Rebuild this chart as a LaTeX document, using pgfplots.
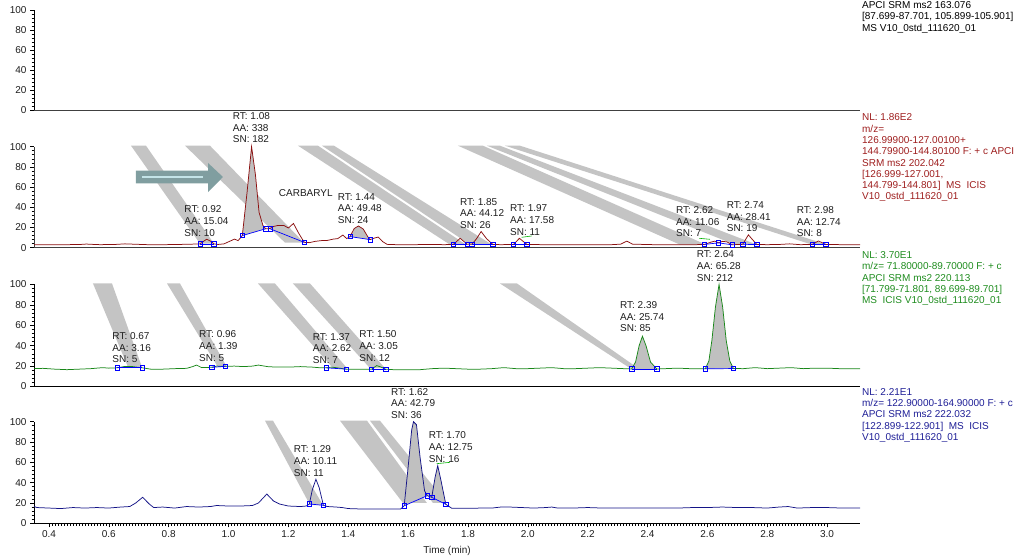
\documentclass[border=0pt]{standalone}
\usepackage{fontspec}
\setmainfont{Liberation Sans}
\usepackage{pgfplots}
\pgfplotsset{compat=1.18}

\definecolor{trRed}{RGB}{139,16,16}
\definecolor{txRed}{RGB}{158,30,30}
\definecolor{trGreen}{RGB}{25,135,25}
\definecolor{txGreen}{RGB}{30,140,30}
\definecolor{trBlue}{RGB}{20,20,135}
\definecolor{txBlue}{RGB}{30,30,150}
\definecolor{peakGray}{RGB}{192,192,192}
\definecolor{bandGray}{RGB}{196,196,196}
\definecolor{arrowFill}{RGB}{128,158,160}
\definecolor{arrowLine}{RGB}{196,228,232}
\definecolor{lblText}{RGB}{30,30,30}

\pgfplotsset{
  chrom/.style={
    scale only axis, width=826bp,
    xmin=0.35, xmax=3.11, ymin=0, ymax=100,
    axis lines*=left, clip=false,
    ytick={0,20,40,60,80,100}, minor y tick num=4,
    xtick=\empty,
    tick align=outside, major tick length=4bp, minor tick length=2.5bp,
    tick style={black, line width=0.6pt},
    axis line style={black, line width=0.8pt},
    font=\fontsize{10bp}{11.4bp}\selectfont,
    /pgf/number format/assume math mode=true,
    tick label style={text=lblText},
  },
  band/.style={fill=bandGray, draw=none, forget plot},
  peak/.style={fill=peakGray, draw=none, forget plot},
  base/.style={blue, line width=0.7pt, mark=square, mark size=2.2bp,
    mark options={blue, line width=0.6pt, fill=none}, forget plot},
  snline/.style={green!70!black, line width=0.6pt, forget plot},
}
\tikzset{
  lbl/.style={anchor=north west, inner sep=0pt, align=left, text=lblText,
    font=\fontsize{10bp}{11.6bp}\selectfont},
  info/.style={anchor=north west, inner sep=0pt, align=left,
    font=\fontsize{10bp}{11.3bp}\selectfont},
}
% peak annotation: position, RT, area, signal-to-noise
\newcommand\pk[5]{\node[lbl] at (axis cs:#1,#2) {RT: #3\\AA: #4\\SN: #5};}

\begin{document}
\begin{tikzpicture}
\useasboundingbox (0,0) rectangle (1015bp,558bp);

% ---------- trace 1 : 163.076 ----------
\begin{axis}[chrom, height=100bp, at={(34bp,448bp)}, anchor=south west]
\addplot[black!75, line width=0.9pt] coordinates {(0.35,0) (3.11,0)};
\node[info, text=black] at (axis cs:3.1165,108.6)
  {APCI SRM ms2 163.076\\{[}87.699-87.701, 105.899-105.901{]}\\MS V10\_0std\_111620\_01};
\end{axis}

% ---------- trace 2 : 202.042 (carbaryl) ----------
\begin{axis}[chrom, height=101bp, at={(34bp,310.3bp)}, anchor=south west,
  axis line style={black!75, line width=1pt}]
% leader bands
\addplot[band] coordinates {(0.6741,101) (0.7242,101) (0.9514,4) (0.9046,4)} -- cycle;
\addplot[band] coordinates {(0.8545,101) (0.9380,101) (1.2521,5) (1.1886,5)} -- cycle;
\addplot[band] coordinates {(1.2321,101) (1.2989,101) (1.7934,3) (1.7399,3)} -- cycle;
\addplot[band] coordinates {(1.3123,101) (1.3524,101) (1.8802,3) (1.8067,3)} -- cycle;
\addplot[band] coordinates {(1.7666,101) (1.8501,101) (2.5953,3) (2.5084,3)} -- cycle;
\addplot[band] coordinates {(1.8634,101) (1.9069,101) (2.7656,3) (2.6921,3)} -- cycle;
\addplot[band] coordinates {(1.9237,101) (1.9738,101) (2.9995,3) (2.9494,3)} -- cycle;
% arrow marker
\addplot[fill=arrowFill, draw=none, forget plot] coordinates {(0.6908,76.2) (0.9314,76.2) (0.9314,83.9) (0.9815,70.0) (0.9314,55.1) (0.9314,63.8) (0.6908,63.8)} -- cycle;
\addplot[arrowLine, line width=2.2pt, forget plot] coordinates {(0.7108,70) (0.9146,70)};
% integrated peaks
\addplot[peak] coordinates {(1.046,12) (1.062,55) (1.077,100) (1.09,72) (1.102,35) (1.115,22) (1.124,18.7)} -- cycle;
\addplot[peak] coordinates {(1.406,11) (1.42,19) (1.434,21.5) (1.45,18.5) (1.465,11) (1.473,8)} -- cycle;
% chromatogram
\addplot[trRed, line width=0.75pt] coordinates {
(0.35,3)(0.40,3)(0.45,3)(0.50,3.1)(0.525,3.6)(0.545,3.3)(0.57,3)(0.62,3.2)(0.654,3.8)(0.69,3.4)
(0.73,3)(0.78,3)(0.82,3.1)(0.86,3.4)(0.89,3.6)(0.905,3.8)(0.915,6)(0.927,8.4)(0.94,6.5)(0.951,3.8)
(0.965,3.2)(0.985,3.8)(1.005,6.5)(1.02,8.5)(1.032,7)(1.046,12)(1.062,55)(1.077,100)(1.09,72)(1.102,35)
(1.115,22)(1.124,18.7)(1.139,19)(1.15,21)(1.165,22)(1.185,22)(1.20,19.5)(1.217,24)(1.235,14)(1.253,5.3)
(1.27,5)(1.29,6.3)(1.31,7)(1.33,7.2)(1.35,8.5)(1.365,9)(1.382,12.5)(1.395,9)(1.406,11)(1.42,19)
(1.434,21.5)(1.45,18.5)(1.465,11)(1.473,8)(1.487,9.5)(1.50,10.5)(1.515,6)(1.53,3.3)(1.56,3)(1.62,3)
(1.68,3.2)(1.72,3)(1.751,3.2)(1.774,9.3)(1.798,3.3)(1.813,3.3)(1.829,9)(1.844,16)(1.862,9)(1.883,3.2)
(1.91,3)(1.952,3.2)(1.972,9.3)(1.997,3.2)(2.05,3)(2.12,3)(2.20,3)(2.28,3)(2.31,3.5)(2.331,6.5)
(2.35,3.5)(2.42,3)(2.50,3)(2.56,3)(2.59,3.2)(2.612,5.5)(2.625,6.5)(2.637,4.8)(2.65,6.3)(2.665,5.8)
(2.684,2.8)(2.70,3.2)(2.718,3.3)(2.737,12.7)(2.765,3.2)(2.80,3)(2.84,3.2)(2.875,3.8)(2.91,3)(2.951,3.2)
(2.971,6.7)(2.996,3.2)(3.05,3)(3.11,3)};
% baselines
\addplot[base] coordinates {(0.905,3.8)(0.951,3.8)};
\addplot[base] coordinates {(1.046,12)(1.124,18.7)};
\addplot[base] coordinates {(1.139,18.7)(1.253,5.3)};
\addplot[base] coordinates {(1.406,11)(1.473,8)};
\addplot[base] coordinates {(1.751,3.2)(1.798,3.2)};
\addplot[base] coordinates {(1.813,3.2)(1.883,3.2)};
\addplot[base] coordinates {(1.952,3.2)(1.997,3.2)};
\addplot[base] coordinates {(2.59,3.2)(2.637,4.8)(2.684,2.8)};
\addplot[base] coordinates {(2.718,3.3)(2.765,3.2)};
\addplot[base] coordinates {(2.951,3.2)(2.996,3.2)};
\addplot[snline] coordinates {(1.9795,10.3)(2.0129,11.6)};
\addplot[snline] coordinates {(2.5729,9.3)(2.6087,8.3)};
% annotations
\pk{1.0139}{134.0}{1.08}{338}{182}
\pk{0.8522}{41.6}{0.92}{15.04}{10}
\pk{1.3647}{54.1}{1.44}{49.48}{24}
\pk{1.7733}{49.1}{1.85}{44.12}{26}
\pk{1.9404}{42.6}{1.97}{17.58}{11}
\pk{2.4950}{40.9}{2.62}{11.06}{7}
\pk{2.6644}{45.8}{2.74}{28.41}{19}
\pk{2.8983}{40.9}{2.98}{12.74}{8}
\node[lbl] at (axis cs:1.1676,58.0) {CARBARYL};
\node[info, text=txRed] at (axis cs:3.1165,132.7)
  {NL: 1.86E2\\m/z=\\126.99900-127.00100+\\144.79900-144.80100 F: + c APCI\\SRM ms2 202.042\\{[}126.999-127.001,\\144.799-144.801{]}\ \ MS\ \ ICIS\\V10\_0std\_111620\_01};
\end{axis}

% ---------- trace 3 : 220.113 ----------
\begin{axis}[chrom, height=102bp, at={(34bp,171.5bp)}, anchor=south west]
\addplot[band] coordinates {(0.5471,101) (0.6106,101) (0.7108,19) (0.6641,19)} -- cycle;
\addplot[band] coordinates {(0.7944,101) (0.8378,101) (0.9948,19) (0.9648,19)} -- cycle;
\addplot[band] coordinates {(1.0984,101) (1.1552,101) (1.3958,18) (1.3490,18)} -- cycle;
\addplot[band] coordinates {(1.2153,101) (1.2722,101) (1.5227,18) (1.4726,18)} -- cycle;
\addplot[band] coordinates {(1.9070,101) (1.9638,101) (2.3681,18) (2.3413,18)} -- cycle;
\addplot[peak] coordinates {(2.347,17.2)(2.36,24)(2.372,40)(2.383,49.3)(2.395,40)(2.41,24)(2.431,17.2)} -- cycle;
\addplot[peak] coordinates {(2.593,17.3)(2.605,25)(2.615,45)(2.627,78)(2.639,100)(2.651,78)(2.663,45)(2.675,25)(2.687,17.6)} -- cycle;
\addplot[trGreen, line width=0.75pt] coordinates {
(0.35,17.5)(0.38,17.8)(0.42,17)(0.46,16.5)(0.50,17)(0.54,17.5)(0.58,18.5)(0.60,18)(0.628,18.3)(0.65,19.5)
(0.68,19.5)(0.712,18.3)(0.74,17)(0.78,17)(0.82,17.5)(0.86,17.8)(0.88,19.5)(0.893,21)(0.91,18.5)(0.944,18.8)
(0.96,20)(0.99,19.8)(1.02,20)(1.05,19.5)(1.08,20)(1.10,21)(1.13,19.5)(1.16,19)(1.20,19)(1.24,19.5)
(1.28,19)(1.30,18.5)(1.326,18.3)(1.345,19)(1.37,18)(1.394,17)(1.42,16.8)(1.45,17)(1.478,17)(1.495,20.5)
(1.51,19)(1.525,17)(1.55,16.5)(1.60,16.5)(1.64,16.5)(1.68,17.5)(1.72,18)(1.76,17.5)(1.80,17)(1.84,17)
(1.88,17.5)(1.92,18.5)(1.96,17.5)(2.00,17.5)(2.04,18)(2.08,18.5)(2.12,17.5)(2.16,17.5)(2.20,18)(2.24,18.5)
(2.28,18)(2.32,17.5)(2.347,17.2)(2.36,24)(2.372,40)(2.383,49.3)(2.395,40)(2.41,24)(2.431,17.2)(2.46,17.5)
(2.50,18)(2.54,17.5)(2.57,17.5)(2.593,17.3)(2.605,25)(2.615,45)(2.627,78)(2.639,100)(2.651,78)(2.663,45)
(2.675,25)(2.687,17.6)(2.72,17.5)(2.76,18.5)(2.80,17.5)(2.84,18)(2.88,18.5)(2.92,17.5)(2.96,18)(3.00,18)
(3.04,17.5)(3.08,17.5)(3.11,17.5)};
\addplot[base] coordinates {(0.628,18.3)(0.712,18.3)};
\addplot[base] coordinates {(0.944,18.8)(0.99,19.8)};
\addplot[base] coordinates {(1.326,18.3)(1.394,17)};
\addplot[base] coordinates {(1.478,17)(1.525,17)};
\addplot[base] coordinates {(2.347,17.2)(2.431,17.2)};
\addplot[base] coordinates {(2.593,17.3)(2.687,17.6)};
\pk{2.5642}{133.1}{2.64}{65.28}{212}
\pk{0.6116}{53.0}{0.67}{3.16}{5}
\pk{0.9013}{54.7}{0.96}{1.39}{5}
\pk{1.2812}{52.4}{1.37}{2.62}{7}
\pk{1.4369}{54.7}{1.50}{3.05}{12}
\pk{2.3079}{83.4}{2.39}{25.74}{85}
\node[info, text=txGreen] at (axis cs:3.1165,132.5)
  {NL: 3.70E1\\m/z= 71.80000-89.70000 F: + c\\APCI SRM ms2 220.113\\{[}71.799-71.801, 89.699-89.701{]}\\MS\ \ ICIS V10\_0std\_111620\_01};
\end{axis}

% ---------- trace 4 : 222.032 ----------
\begin{axis}[chrom, height=101.6bp, at={(34bp,34.7bp)}, anchor=south west,
  xtick={0.4,0.6,0.8,1.0,1.2,1.4,1.6,1.8,2.0,2.2,2.4,2.6,2.8,3.0},
  minor x tick num=19,
  xticklabel style={/pgf/number format/.cd, fixed, fixed zerofill, precision=1},
  xlabel={Time (min)}, xlabel style={text=lblText, yshift=-2bp}]
\addplot[band] coordinates {(1.1218,101) (1.1485,101) (1.3156,18) (1.2722,18)} -- cycle;
\addplot[band] coordinates {(1.3724,101) (1.4626,101) (1.6630,20) (1.5829,20)} -- cycle;
\addplot[band] coordinates {(1.4726,101) (1.5060,101) (1.7299,20) (1.6831,20)} -- cycle;
\addplot[peak] coordinates {(1.587,17.3)(1.60,55)(1.612,92)(1.618,100)(1.628,97)(1.64,65)(1.655,32)(1.664,27.2)} -- cycle;
\addplot[peak] coordinates {(1.679,25.6)(1.69,45)(1.699,56.7)(1.71,42)(1.726,18.7)} -- cycle;
\addplot[trBlue, line width=0.75pt] coordinates {
(0.35,16.5)(0.36,15.5)(0.40,15)(0.44,14.5)(0.48,15.5)(0.52,15)(0.56,15.5)(0.60,15)(0.64,16)(0.67,16.5)
(0.69,20)(0.713,25.6)(0.735,19)(0.75,15.5)(0.78,16)(0.82,15)(0.86,16.5)(0.90,16)(0.94,16.5)(0.96,17.5)
(1.00,17)(1.04,17)(1.08,17.5)(1.10,20)(1.128,28.8)(1.15,22)(1.17,19)(1.20,17)(1.24,16.5)(1.26,17)
(1.27,19)(1.28,33)(1.292,43.3)(1.303,35)(1.317,17.7)(1.33,16.5)(1.36,16)(1.38,15.5)(1.40,14.5)(1.45,14)
(1.50,14)(1.55,14)(1.575,14)(1.587,17.3)(1.60,55)(1.612,92)(1.618,100)(1.628,97)(1.64,65)(1.655,32)
(1.664,27.2)(1.679,25.6)(1.69,45)(1.699,56.7)(1.71,42)(1.726,18.7)(1.746,14.8)(1.80,14.8)(1.85,15)(1.88,15)
(1.91,16)(1.94,16)(1.98,15.5)(2.02,15)(2.06,15.5)(2.08,16)(2.10,15)(2.15,15)(2.20,15.5)(2.25,15)
(2.30,15)(2.35,15)(2.40,15)(2.45,15)(2.50,15)(2.55,15.5)(2.60,15.5)(2.65,16)(2.70,15.5)(2.75,15.5)
(2.80,15)(2.84,16)(2.87,16.5)(2.90,15)(2.95,15.5)(3.00,15.5)(3.05,15)(3.11,15)};
\addplot[base] coordinates {(1.27,19)(1.317,17.7)};
\addplot[base] coordinates {(1.587,17.3)(1.664,27.2)};
\addplot[base] coordinates {(1.679,25.6)(1.726,18.7)};
\addplot[snline] coordinates {(1.6955,58.7)(1.7399,60)};
\pk{1.2177}{76.4}{1.29}{10.11}{11}
\pk{1.5428}{133.1}{1.62}{42.79}{36}
\pk{1.6687}{90.2}{1.70}{12.75}{16}
\node[info, text=txBlue] at (axis cs:3.1165,133.1)
  {NL: 2.21E1\\m/z= 122.90000-164.90000 F: + c\\APCI SRM ms2 222.032\\{[}122.899-122.901{]}\ \ MS\ \ ICIS\\V10\_0std\_111620\_01};
\end{axis}
\end{tikzpicture}
\end{document}
